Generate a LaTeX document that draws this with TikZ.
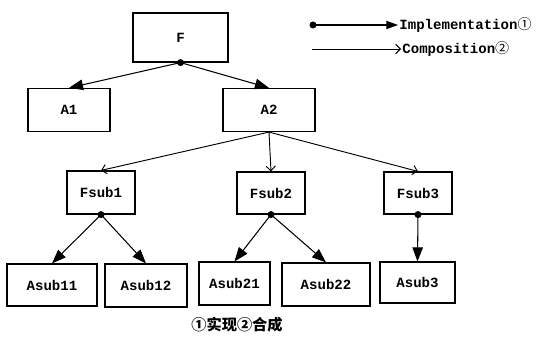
\documentclass[tikz,border=0pt]{standalone}
\usepackage{fontspec}
\setmonofont{Liberation Mono}
\newfontfamily\cjk{Noto Sans CJK SC}
\usetikzlibrary{arrows.meta}
\newcommand{\lbl}[1]{\texttt{\bfseries #1}}

\begin{document}
\begin{tikzpicture}[x=0.03cm,y=-0.03cm,
  box/.style={draw,line width=1pt,inner sep=0pt,font=\fontsize{12}{14}\selectfont},
  impl/.style={line width=0.9pt,-{Triangle[length=12pt,width=9pt]}},
  comp/.style={line width=0.8pt,-{Straight Barb[length=4pt,width=8pt]}},
  dot/.style={fill=black}]
\useasboundingbox (0,0) rectangle (537,345);
% top level
\node[box,minimum width=2.85cm,minimum height=1.47cm] (F) at (180.5,37.5) {\lbl{F}};
\node[box,minimum width=2.46cm,minimum height=1.29cm] (A1) at (69,110) {\lbl{A1}};
\node[box,minimum width=2.76cm,minimum height=1.29cm] (A2) at (269,110) {\lbl{A2}};
% sub functions
\node[box,minimum width=2.04cm,minimum height=1.29cm] (Fs1) at (101,192.5) {\lbl{Fsub1}};
\node[box,minimum width=2.04cm,minimum height=1.26cm] (Fs2) at (271,193) {\lbl{Fsub2}};
\node[box,minimum width=2.04cm,minimum height=1.26cm] (Fs3) at (418,193) {\lbl{Fsub3}};
% leaves
\node[box,minimum width=2.70cm,minimum height=1.26cm] (As11) at (52,285) {\lbl{Asub11}};
\node[box,minimum width=2.46cm,minimum height=1.29cm] (As12) at (146,285.5) {\lbl{Asub12}};
\node[box,minimum width=2.13cm,minimum height=1.29cm] (As21) at (234.5,283.5) {\lbl{Asub21}};
\node[box,minimum width=2.64cm,minimum height=1.29cm] (As22) at (326,284.5) {\lbl{Asub22}};
\node[box,minimum width=2.25cm,minimum height=1.23cm] (As3) at (417.5,282.5) {\lbl{Asub3}};

\draw[impl] (F.south) -- (A1.north);
\draw[impl] (F.south) -- (A2.north);
\draw[comp] (A2.south) -- (Fs1.north);
\draw[comp] (A2.south) -- (Fs2.north);
\draw[comp] (A2.south) -- (Fs3.north);
\draw[impl] (Fs1.south) -- (As11.north);
\draw[impl] (Fs1.south) -- (As12.north);
\draw[impl] (Fs2.south) -- (As21.north);
\draw[impl] (Fs2.south) -- (As22.north);
\draw[impl] (Fs3.south) -- (As3.north);
\foreach \n in {F,Fs1,Fs2,Fs3}
  \fill[dot] (\n.south) circle (3.5);

% legend
\coordinate (k1) at (313,25);
\coordinate (k2) at (312,49);
\node[anchor=west,inner sep=1pt,font=\fontsize{12}{14}\selectfont] (impltxt) at (398,25) {\lbl{Implementation}{\cjk ①}};
\node[anchor=west,inner sep=1pt,font=\fontsize{12}{14}\selectfont] (comptxt) at (401,49) {\lbl{Composition}{\cjk ②}};
\draw[impl,-{Triangle[length=10pt,width=7pt]}] (k1) -- (impltxt.west);
\draw[comp] (k2) -- (comptxt.west);
\fill[dot] (k1) circle (3.5);

\node[font=\cjk\bfseries\fontsize{13}{15}\selectfont] (cap) at (237,325) {①实现②合成};
\end{tikzpicture}
\end{document}
